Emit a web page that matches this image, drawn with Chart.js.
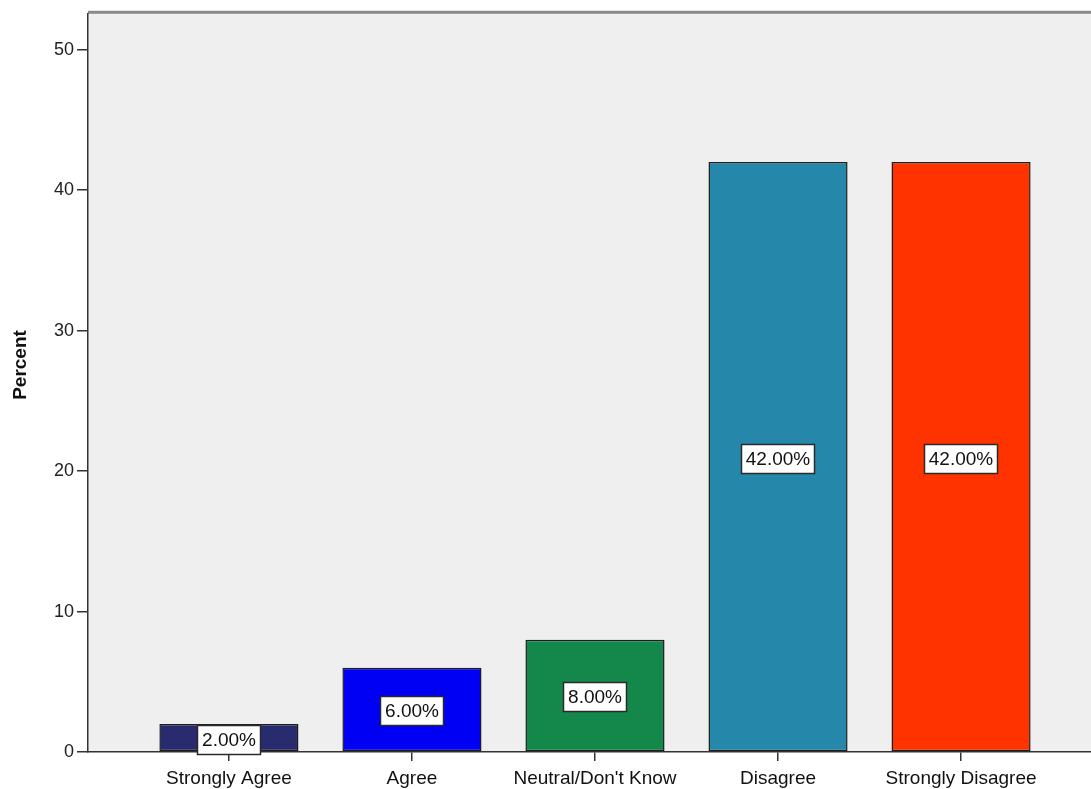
<!DOCTYPE html>
<html>
<head>
<meta charset="utf-8">
<script src="https://cdn.jsdelivr.net/npm/chart.js@4.4.0/dist/chart.umd.min.js"></script>
<style>
  html, body { margin: 0; padding: 0; background: #fff; }
  #wrap { width: 1091px; height: 789px; }
</style>
</head>
<body>
<div id="wrap"><canvas id="chart" width="1091" height="789"></canvas></div>
<script>
const categories = ['Strongly Agree', 'Agree', "Neutral/Don't Know", 'Disagree', 'Strongly Disagree'];
const percents = [2, 6, 8, 42, 42];
const barColors = ['#282b6d', '#0000f5', '#13884a', '#2587a9', '#ff3300'];
const yTicks = [0, 10, 20, 30, 40, 50];

const fontFamily = '"Liberation Sans", Arial, sans-serif';

// plot frame (top gray edge), y title and value boxes in the middle of each bar
const frameAndLabels = {
  id: 'frameAndLabels',
  beforeDraw(chart) {
    const {ctx, chartArea: {left, top, right, bottom}} = chart;
    ctx.save();
    ctx.fillStyle = '#efefef';
    ctx.fillRect(left, top, right - left, bottom - top);
    ctx.fillStyle = '#8a8a8a';
    ctx.fillRect(left, top - 3, right - left, 3);
    ctx.restore();

    ctx.save();
    ctx.translate(21, 365);
    ctx.rotate(-Math.PI / 2);
    ctx.font = 'bold 19px ' + fontFamily;
    ctx.fillStyle = '#111';
    ctx.textAlign = 'center';
    ctx.textBaseline = 'middle';
    ctx.fillText('Percent', 0, 0);
    ctx.restore();
  },
  afterDatasetsDraw(chart) {
    const {ctx} = chart;
    const meta = chart.getDatasetMeta(0);
    ctx.save();
    ctx.font = '19px ' + fontFamily;
    ctx.textAlign = 'center';
    ctx.textBaseline = 'middle';
    meta.data.forEach((bar, i) => {
      const text = percents[i].toFixed(2) + '%';
      const w = Math.round(ctx.measureText(text).width + 10);
      const h = 30;
      const cx = Math.round(bar.x);
      const cy = Math.round((bar.y + bar.base) / 2 + 2);
      ctx.fillStyle = '#ffffff';
      ctx.fillRect(cx - w / 2, cy - h / 2, w, h);
      ctx.strokeStyle = '#2a2a2a';
      ctx.lineWidth = 1.5;
      ctx.strokeRect(cx - w / 2 + 0.5, cy - h / 2 + 0.5, w - 1, h - 1);
      ctx.fillStyle = '#111111';
      ctx.fillText(text, cx, cy + 1);
    });
    ctx.restore();
  }
};

new Chart(document.getElementById('chart'), {
  type: 'bar',
  data: {
    datasets: [{
      data: percents.map((p, i) => ({x: i, y: p})),
      backgroundColor: barColors,
      borderColor: '#1e1e1e',
      borderWidth: 1.5,
      borderSkipped: false,
      barPercentage: 0.76,
      categoryPercentage: 1
    }]
  },
  options: {
    responsive: false,
    animation: false,
    layout: { padding: { top: 12, right: 0, left: 0, bottom: 0 } },
    plugins: {
      legend: { display: false },
      tooltip: { enabled: false }
    },
    scales: {
      x: {
        type: 'linear',
        offset: false,
        min: -0.77,
        max: 4.71,
        afterBuildTicks: scale => { scale.ticks = categories.map((c, i) => ({value: i})); },
        afterFit: scale => { scale.height = 37; },
        ticks: {
          callback: (v) => categories[v],
          color: '#111',
          font: { family: fontFamily, size: 19 },
          padding: 6,
          maxRotation: 0,
          autoSkip: false
        },
        grid: { display: true, offset: false, drawOnChartArea: false, tickLength: 9, color: '#333', lineWidth: 1.5 },
        border: { display: true, color: '#333', width: 1.5 }
      },
      y: {
        min: 0,
        max: 52.56,
        afterBuildTicks: scale => { scale.ticks = yTicks.map(v => ({value: v})); },
        afterFit: scale => { scale.width = 88; },
        ticks: {
          color: '#222',
          font: { family: fontFamily, size: 18 },
          padding: 3
        },
        grid: { display: true, drawOnChartArea: false, tickLength: 11, color: '#333', lineWidth: 1.5 },
        border: { display: true, color: '#333', width: 1.5 }
      }
    }
  },
  plugins: [frameAndLabels]
});
</script>
</body>
</html>
